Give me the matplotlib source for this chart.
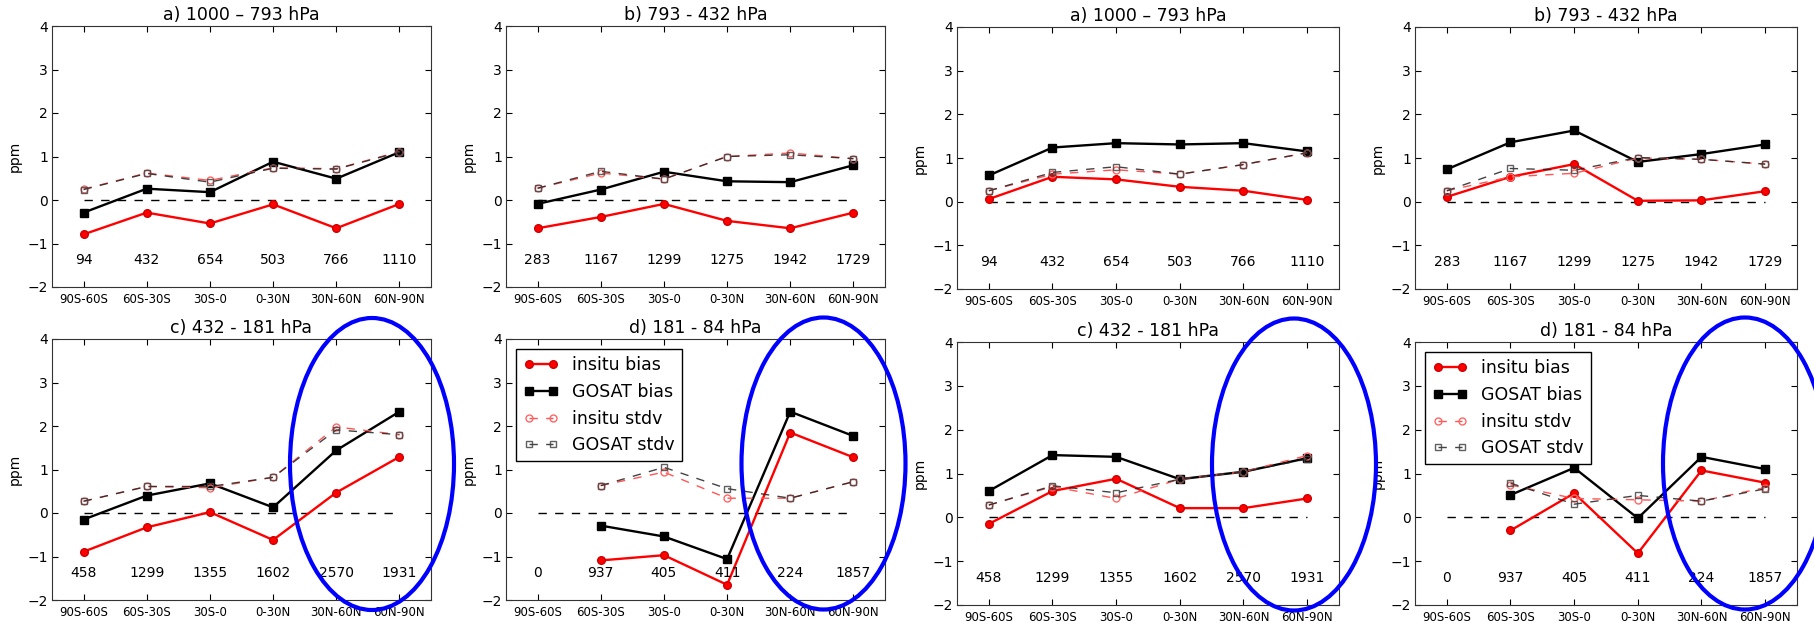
import numpy as np
import matplotlib
matplotlib.use("Agg")
import matplotlib.pyplot as plt
from matplotlib.patches import Ellipse

regions = ["90S-60S", "60S-30S", "30S-0", "0-30N", "30N-60N", "60N-90N"]
titles = ["a) 1000 \u2013 793 hPa", "b) 793 - 432 hPa", "c) 432 - 181 hPa", "d) 181 - 84 hPa"]

counts_a = [94, 432, 654, 503, 766, 1110]
counts_b = [283, 1167, 1299, 1275, 1942, 1729]
counts_c = [458, 1299, 1355, 1602, 2570, 1931]
counts_d = [0, 937, 405, 411, 224, 1857]

nan = np.nan

# left set of panels
left_a_insitu_bias = [-0.79, -0.29, -0.54, -0.10, -0.65, -0.09]
left_a_gosat_bias = [-0.29, 0.26, 0.18, 0.88, 0.49, 1.10]
left_a_insitu_stdv = [0.25, 0.62, 0.45, 0.74, 0.72, 1.11]
left_a_gosat_stdv = [0.24, 0.61, 0.41, 0.73, 0.71, 1.10]

left_b_insitu_bias = [-0.65, -0.39, -0.09, -0.48, -0.65, -0.29]
left_b_gosat_bias = [-0.09, 0.24, 0.65, 0.43, 0.41, 0.80]
left_b_insitu_stdv = [0.27, 0.62, 0.48, 1.00, 1.08, 0.95]
left_b_gosat_stdv = [0.27, 0.66, 0.48, 1.00, 1.04, 0.95]

left_c_insitu_bias = [-0.89, -0.33, 0.02, -0.62, 0.47, 1.29]
left_c_gosat_bias = [-0.15, 0.40, 0.68, 0.13, 1.44, 2.33]
left_c_insitu_stdv = [0.27, 0.61, 0.58, 0.82, 1.98, 1.80]
left_c_gosat_stdv = [0.27, 0.61, 0.61, 0.82, 1.91, 1.80]

left_d_insitu_bias = [nan, -1.09, -0.97, -1.65, 1.85, 1.28]
left_d_gosat_bias = [nan, -0.29, -0.54, -1.06, 2.33, 1.77]
left_d_insitu_stdv = [nan, 0.63, 0.94, 0.34, 0.34, 0.72]
left_d_gosat_stdv = [nan, 0.63, 1.05, 0.56, 0.34, 0.72]

# right set of panels
right_a_insitu_bias = [0.06, 0.57, 0.51, 0.34, 0.25, 0.04]
right_a_gosat_bias = [0.60, 1.24, 1.34, 1.31, 1.34, 1.15]
right_a_insitu_stdv = [0.25, 0.63, 0.73, 0.63, 0.85, 1.12]
right_a_gosat_stdv = [0.25, 0.67, 0.80, 0.63, 0.85, 1.12]

right_b_insitu_bias = [0.11, 0.57, 0.86, 0.02, 0.03, 0.24]
right_b_gosat_bias = [0.74, 1.36, 1.63, 0.91, 1.09, 1.31]
right_b_insitu_stdv = [0.25, 0.57, 0.65, 1.00, 0.97, 0.86]
right_b_gosat_stdv = [0.25, 0.76, 0.72, 1.01, 0.97, 0.86]

right_c_insitu_bias = [-0.15, 0.60, 0.88, 0.21, 0.21, 0.43]
right_c_gosat_bias = [0.60, 1.42, 1.38, 0.87, 1.04, 1.35]
right_c_insitu_stdv = [0.28, 0.70, 0.43, 0.87, 1.04, 1.41]
right_c_gosat_stdv = [0.28, 0.72, 0.56, 0.87, 1.04, 1.33]

right_d_insitu_bias = [nan, -0.30, 0.55, -0.82, 1.07, 0.79]
right_d_gosat_bias = [nan, 0.51, 1.13, -0.02, 1.38, 1.10]
right_d_insitu_stdv = [nan, 0.74, 0.43, 0.40, 0.37, 0.68]
right_d_gosat_stdv = [nan, 0.78, 0.30, 0.50, 0.37, 0.65]

W, H = 1815, 623

# panel boxes in pixels: left, right, top, bottom
boxes = [
    (52, 431, 26, 287), (506, 885, 26, 287), (957, 1339, 27, 289), (1415, 1797, 27, 289),
    (52, 431, 339, 600), (506, 885, 339, 600), (957, 1339, 342, 605), (1415, 1797, 342, 605),
]

panels = [
    (titles[0], counts_a, left_a_insitu_bias, left_a_gosat_bias, left_a_insitu_stdv, left_a_gosat_stdv),
    (titles[1], counts_b, left_b_insitu_bias, left_b_gosat_bias, left_b_insitu_stdv, left_b_gosat_stdv),
    (titles[0], counts_a, right_a_insitu_bias, right_a_gosat_bias, right_a_insitu_stdv, right_a_gosat_stdv),
    (titles[1], counts_b, right_b_insitu_bias, right_b_gosat_bias, right_b_insitu_stdv, right_b_gosat_stdv),
    (titles[2], counts_c, left_c_insitu_bias, left_c_gosat_bias, left_c_insitu_stdv, left_c_gosat_stdv),
    (titles[3], counts_d, left_d_insitu_bias, left_d_gosat_bias, left_d_insitu_stdv, left_d_gosat_stdv),
    (titles[2], counts_c, right_c_insitu_bias, right_c_gosat_bias, right_c_insitu_stdv, right_c_gosat_stdv),
    (titles[3], counts_d, right_d_insitu_bias, right_d_gosat_bias, right_d_insitu_stdv, right_d_gosat_stdv),
]

fig = plt.figure(figsize=(W / 100, H / 100), dpi=100)
x = np.arange(len(regions))
dash = (0, (6, 6))

for (l, r, t, b), (title, counts, ib, gb, isd, gsd) in zip(boxes, panels):
    ax = fig.add_axes([l / W, 1 - b / H, (r - l) / W, (b - t) / H])
    ax.plot(x, np.zeros(len(x)), color="black", linestyle=dash, linewidth=1)
    ax.plot(x, ib, "-o", color="red", linewidth=1.7, markersize=5.5,
            markeredgecolor="#cc0000", label="insitu bias")
    ax.plot(x, gb, "-s", color="black", linewidth=1.7, markersize=5.5, label="GOSAT bias")
    ax.plot(x, isd, "--o", color="#ff5555", linewidth=1, dashes=(6, 6), markersize=5,
            markerfacecolor="none", markeredgecolor="#ff6666", label="insitu stdv")
    ax.plot(x, gsd, "--s", color="#222222", linewidth=1, dashes=(6, 6), markersize=5,
            markerfacecolor="none", markeredgecolor="#444444", alpha=0.85, label="GOSAT stdv")
    for i, n in enumerate(counts):
        ax.text(x[i], -1.38, str(n), ha="center", va="center", fontsize=10)
    ax.set_xlim(-0.5, 5.5)
    ax.set_ylim(-2, 4)
    ax.set_xticks(x)
    ax.set_xticklabels(regions)
    ax.set_yticks(range(-2, 5))
    ax.tick_params(axis="both", direction="in", top=True, right=True, length=4, width=0.8)
    ax.tick_params(axis="x", labelsize=8.5, pad=4)
    ax.tick_params(axis="y", labelsize=10, pad=3)
    for s in ax.spines.values():
        s.set_color("#333333")
    ax.set_ylabel("ppm", fontsize=10)
    ax.set_title(title, fontsize=12.5, pad=4)
    if title.startswith("d)"):
        leg = ax.legend(loc="upper left", numpoints=2, fontsize=12.5, fancybox=False,
                        framealpha=1, edgecolor="black", handlelength=2.0,
                        borderaxespad=0.6)
        leg.get_frame().set_linewidth(1)

# blue ellipses drawn over the figure
over = fig.add_axes([0, 0, 1, 1], zorder=10)
over.set_xlim(0, W)
over.set_ylim(H, 0)
over.axis("off")
for cx, cy in [(372, 464), (823.5, 463.5), (1294, 464.5), (1745, 463.5)]:
    over.add_patch(Ellipse((cx, cy), 164, 292, fill=False, edgecolor="blue", linewidth=3))

fig.savefig("out.png", dpi=100)
